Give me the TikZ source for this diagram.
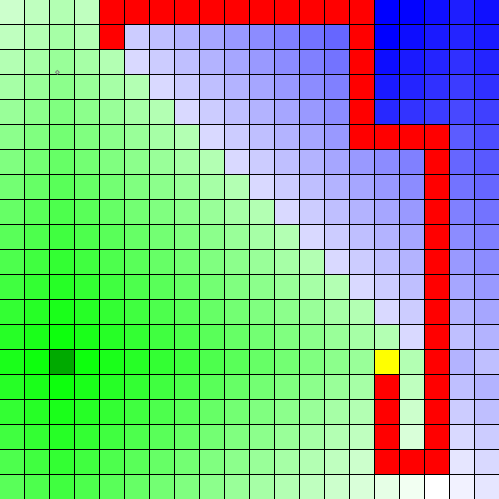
\documentclass[tikz,border=0pt]{standalone}
\tikzset{gridline/.style={draw=black,line width=1.2pt},
         ring/.style={draw={rgb,255:red,130;green,145;blue,130},line width=1pt}}
\begin{document}
\begin{tikzpicture}[x=1cm,y=1cm]
\useasboundingbox (0,0) rectangle (20,20);
\foreach \r/\vals in {
 0/{-1,-1,-1,-1,-2,-2,-2,-2,-2,-2,-2,-2,-2,-2,-2,0,3,15,30,16},
 1/{-1,-1,-1,-1,-2,204,191,179,166,153,140,128,115,102,-2,0,13,26,36,26},
 2/{-1,-1,-1,-1,-1,217,204,191,179,166,153,140,128,115,-2,13,26,36,48,36},
 3/{-1,-1,-1,-1,-1,-1,217,204,191,179,166,153,140,128,-2,26,36,48,60,48},
 4/{-1,-1,-1,-1,-1,-1,-1,217,204,191,179,166,153,140,-2,40,51,60,72,64},
 5/{-1,-1,-1,-1,-1,-1,-1,-1,217,204,191,179,166,153,-2,-2,-2,-2,92,77},
 6/{-1,-1,-1,-1,-1,-1,-1,-1,-1,217,204,191,179,166,153,140,128,-2,102,89},
 7/{-1,-1,-1,-1,-1,-1,-1,-1,-1,-1,217,204,191,179,166,153,140,-2,115,102},
 8/{-1,-1,-1,-1,-1,-1,-1,-1,-1,-1,-1,217,204,191,179,166,153,-2,128,115},
 9/{-1,-1,-1,-1,-1,-1,-1,-1,-1,-1,-1,-1,217,204,191,179,166,-2,140,128},
 10/{-1,-1,-1,-1,-1,-1,-1,-1,-1,-1,-1,-1,-1,217,204,191,179,-2,153,140},
 11/{-1,-1,-1,-1,-1,-1,-1,-1,-1,-1,-1,-1,-1,-1,217,204,191,-2,166,153},
 12/{-1,-1,-1,-1,-1,-1,-1,-1,-1,-1,-1,-1,-1,-1,-1,217,204,-2,179,166},
 13/{-1,-1,-1,-1,-1,-1,-1,-1,-1,-1,-1,-1,-1,-1,-1,-1,217,-2,191,179},
 14/{-1,-1,-4,-1,-1,-1,-1,-1,-1,-1,-1,-1,-1,-1,-1,-3,-1,-2,179,191},
 15/{-1,-1,-1,-1,-1,-1,-1,-1,-1,-1,-1,-1,-1,-1,-1,-2,-1,-2,191,179},
 16/{-1,-1,-1,-1,-1,-1,-1,-1,-1,-1,-1,-1,-1,-1,-1,-2,-1,-2,204,191},
 17/{-1,-1,-1,-1,-1,-1,-1,-1,-1,-1,-1,-1,-1,-1,-1,-2,-1,-2,217,204},
 18/{-1,-1,-1,-1,-1,-1,-1,-1,-1,-1,-1,-1,-1,-1,-1,-2,-2,-2,230,217},
 19/{-1,-1,-1,-1,-1,-1,-1,-1,-1,-1,-1,-1,-1,-1,-1,-1,-1,-1,242,230}} {
  \foreach \v [count=\ci from 0] in \vals {
    \pgfmathtruncatemacro\gs{min(255,round(12.75*(abs(\ci-2)+abs(\r-14))))}
    \ifnum\v=-1 \definecolor{cc}{RGB}{\gs,255,\gs}\fi
    \ifnum\v=-2 \definecolor{cc}{RGB}{255,0,0}\fi
    \ifnum\v=-3 \definecolor{cc}{RGB}{255,255,0}\fi
    \ifnum\v=-4 \definecolor{cc}{RGB}{0,170,0}\fi
    \ifnum\v>-1 \definecolor{cc}{RGB}{\v,\v,255}\fi
    \fill[cc] (\ci,{19-\r}) rectangle ++(1,1);
  }
}
\foreach \i in {1,...,19} {
  \draw[gridline] (\i,0) -- (\i,20);
  \draw[gridline] (0,\i) -- (20,\i);
}
\draw[ring] (2.297,17.102) circle (0.075);
\end{tikzpicture}
\end{document}
